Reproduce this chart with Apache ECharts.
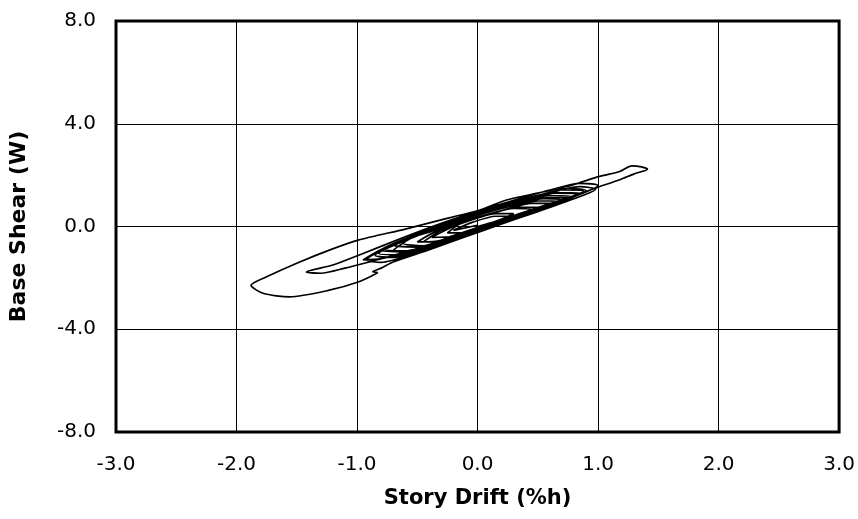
<!DOCTYPE html>
<html>
<head>
<meta charset="utf-8">
<script src="https://cdn.jsdelivr.net/npm/echarts@6/dist/echarts.min.js"></script>
<style>
  html, body { margin: 0; padding: 0; background: #fff; }
</style>
</head>
<body>
<div id="main" style="width: 858px; height: 519px;"></div>
<script>
// story drift (%h) vs base shear (W)
var earlyCycles = [
  [0, 0], [0.15, 0.2], [0.3, 0.5], [0.15, 0.5], [0, 0.35], [-0.15, 0.1], [-0.25, -0.25],
  [-0.1, -0.25], [0.1, 0.05], [0.3, 0.38], [0.5, 0.75], [0.35, 0.75], [0.15, 0.55], [-0.1, 0.2], [-0.3, -0.15], [-0.45, -0.6],
  [-0.3, -0.6], [-0.1, -0.3], [0.2, 0.2], [0.5, 0.65], [0.7, 1.05], [0.55, 1.08], [0.3, 0.85], [0, 0.5], [-0.3, 0.05], [-0.55, -0.45], [-0.7, -0.95],
  [-0.55, -1.0], [-0.3, -0.65], [0, -0.15], [0.3, 0.32], [0.6, 0.8], [0.9, 1.4], [0.75, 1.48], [0.5, 1.2], [0.2, 0.85], [-0.1, 0.4], [-0.4, -0.12], [-0.7, -0.7], [-0.92, -1.3],
  [-0.8, -1.4], [-0.5, -1.0], [-0.2, -0.5], [0.1, 0.0], [0.4, 0.5], [0.7, 1.0], [1.0, 1.6], [0.85, 1.68], [0.6, 1.42], [0.3, 1.02], [0, 0.6], [-0.3, 0.12], [-0.6, -0.4], [-0.95, -1.05], [-1.2, -1.5], [-1.42, -1.77],
  [-1.3, -1.82], [-1.1, -1.62], [-0.9, -1.38], [-0.6, -1.0], [-0.3, -0.55], [0, -0.08], [0.3, 0.38], [0.6, 0.82], [0.82, 1.25], [0.65, 1.3], [0.4, 1.02], [0.1, 0.65], [-0.2, 0.2], [-0.5, -0.3], [-0.8, -0.9], [-0.95, -1.3]
];

var peakCycles = [
  [-0.8, -1.25], [-0.5, -0.9], [-0.2, -0.4], [0.1, 0.1], [0.4, 0.55], [0.7, 1.0], [0.95, 1.45], [1.18, 1.82], [1.3, 2.05], [1.41, 2.23],
  [1.36, 2.32], [1.28, 2.36], [1.18, 2.14], [1.01, 1.95], [0.79, 1.62], [0.5, 1.3], [0.24, 1.03], [0.02, 0.64], [-0.31, 0.25], [-0.6, -0.1], [-0.99, -0.53], [-1.23, -0.92], [-1.5, -1.43], [-1.75, -1.96], [-1.88, -2.29],
  [-1.78, -2.6], [-1.56, -2.74], [-1.23, -2.48], [-0.99, -2.16], [-0.86, -1.88], [-0.83, -1.8], [-0.87, -1.76], [-0.8, -1.62], [-0.7, -1.38], [-0.4, -0.9], [-0.1, -0.4], [0.2, 0.1], [0.5, 0.58], [0.8, 1.08], [0.98, 1.45],
  [0.85, 1.55], [0.6, 1.32], [0.3, 0.98], [0, 0.58], [-0.3, 0.08], [-0.6, -0.48], [-0.85, -1.12]
];

var lateCycles = [
  [-0.7, -1.2], [-0.4, -0.8], [-0.1, -0.32], [0.2, 0.15], [0.5, 0.65], [0.78, 1.15], [0.6, 1.2], [0.3, 0.92], [0, 0.52], [-0.3, 0.02], [-0.55, -0.45], [-0.82, -1.05],
  [-0.65, -1.1], [-0.35, -0.68], [0, -0.12], [0.3, 0.35], [0.6, 0.85], [0.88, 1.38], [0.7, 1.42], [0.45, 1.12], [0.15, 0.75], [-0.15, 0.3], [-0.45, -0.22], [-0.78, -0.88],
  [-0.6, -0.95], [-0.3, -0.55], [0, -0.05], [0.3, 0.4], [0.6, 0.88], [0.75, 1.12], [0.55, 1.12], [0.3, 0.88], [0, 0.48], [-0.3, -0.02], [-0.62, -0.65],
  [-0.45, -0.75], [-0.2, -0.4], [0.1, 0.05], [0.4, 0.52], [0.68, 0.98], [0.5, 1.0], [0.2, 0.7], [-0.1, 0.28], [-0.38, -0.18], [-0.7, -0.72],
  [-0.5, -0.8], [-0.2, -0.35], [0.1, 0.12], [0.4, 0.58], [0.85, 1.3], [0.65, 1.32], [0.35, 0.98], [0.05, 0.58], [-0.25, 0.12], [-0.55, -0.38], [-0.8, -0.92],
  [-0.6, -0.98], [-0.3, -0.58], [0, -0.1], [0.3, 0.35], [0.62, 0.9], [0.45, 0.9], [0.2, 0.62], [-0.1, 0.22], [-0.35, -0.2], [-0.5, -0.6],
  [-0.35, -0.58], [-0.1, -0.22], [0.2, 0.22], [0.45, 0.68], [0.3, 0.7], [0.05, 0.4], [-0.2, 0.0], [-0.38, -0.42],
  [-0.2, -0.38], [0.05, -0.02], [0.3, 0.4], [0.15, 0.4], [-0.05, 0.15], [-0.2, -0.15], [0, 0.05]
];

var xTicks = [-3, -2, -1, 0, 1, 2, 3];
var yTicks = [-8, -4, 0, 4, 8];

var chart = echarts.init(document.getElementById('main'));
var option = {
  animation: false,
  backgroundColor: '#fff',
  grid: {
    left: 116,
    right: 18,
    top: 21,
    bottom: 87,
    show: true,
    borderColor: '#000',
    borderWidth: 3
  },
  xAxis: {
    type: 'value',
    min: xTicks[0],
    max: xTicks[xTicks.length - 1],
    interval: 1,
    name: 'Story Drift (%h)',
    nameLocation: 'middle',
    nameGap: 56,
    nameTextStyle: { fontFamily: 'DejaVu Sans', fontWeight: 'bold', fontSize: 21, color: '#000' },
    axisLine: { show: false },
    axisTick: { show: false },
    axisLabel: {
      margin: 23,
      fontFamily: 'DejaVu Sans',
      fontSize: 20,
      color: '#000',
      formatter: function (v) { return v.toFixed(1) }
    },
    splitLine: { lineStyle: { color: '#000', width: 1 } }
  },
  yAxis: {
    type: 'value',
    min: yTicks[0],
    max: yTicks[yTicks.length - 1],
    interval: 4,
    name: 'Base Shear (W)',
    nameLocation: 'middle',
    nameGap: 86,
    nameTextStyle: { fontFamily: 'DejaVu Sans', fontWeight: 'bold', fontSize: 22, color: '#000' },
    axisLine: { show: false },
    axisTick: { show: false },
    axisLabel: {
      margin: 20,
      fontFamily: 'DejaVu Sans',
      fontSize: 20,
      color: '#000',
      formatter: function (v) { return v.toFixed(1) }
    },
    splitLine: { lineStyle: { color: '#000', width: 1 } }
  },
  series: [
    {
      type: 'line',
      data: earlyCycles.concat(peakCycles, lateCycles),
      showSymbol: false,
      smooth: 0.25,
      lineStyle: { color: '#000', width: 1.7 }
    }
  ]
};
chart.setOption(option);
</script>
</body>
</html>
